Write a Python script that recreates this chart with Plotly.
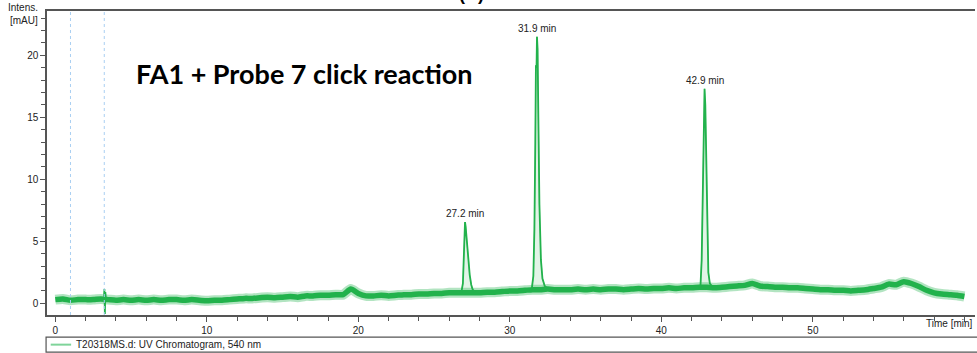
import plotly.graph_objects as go

# ---------------- data ----------------
# baseline sampled every 0.5 min from 0 to 60 min
base_step = 0.5
base_values = [
    0.30, 0.35, 0.25, 0.30, 0.30, 0.30, 0.35, 0.30, 0.25, 0.30,   # 0 - 4.5
    0.25, 0.30, 0.25, 0.30, 0.25, 0.30, 0.30, 0.25, 0.30, 0.25,   # 5 - 9.5
    0.20, 0.25, 0.25, 0.30, 0.35, 0.40, 0.40, 0.45, 0.50, 0.45,   # 10 - 14.5
    0.50, 0.55, 0.50, 0.60, 0.60, 0.65, 0.65, 0.70, 0.70, 1.15,   # 15 - 19.5
    0.80, 0.60, 0.60, 0.65, 0.60, 0.65, 0.70, 0.70, 0.75, 0.75,   # 20 - 24.5
    0.80, 0.80, 0.85, 0.85, 0.85, 0.85, 0.85, 0.90, 0.90, 0.95,   # 25 - 29.5
    1.00, 1.00, 1.05, 1.10, 1.10, 1.15, 1.10, 1.10, 1.10, 1.15,   # 30 - 34.5
    1.10, 1.15, 1.10, 1.15, 1.15, 1.10, 1.15, 1.20, 1.15, 1.20,   # 35 - 39.5
    1.20, 1.25, 1.20, 1.25, 1.25, 1.30, 1.30, 1.25, 1.30, 1.35,   # 40 - 44.5
    1.40, 1.45, 1.60, 1.40, 1.35, 1.30, 1.30, 1.25, 1.25, 1.20,   # 45 - 49.5
    1.15, 1.10, 1.10, 1.05, 1.05, 1.00, 1.05, 1.10, 1.20, 1.30,   # 50 - 54.5
    1.55, 1.50, 1.75, 1.60, 1.35, 1.05, 0.85, 0.75, 0.70, 0.65,   # 55 - 59.5
    0.55,                                                         # 60
]

# injection spike
spike_t = [3.20, 3.24, 3.27, 3.30, 3.34]
spike_v = [0.35, 1.15, -0.85, 0.90, 0.35]

# peaks
peak1_t = [26.70, 26.80, 26.90, 26.95, 27.00, 27.04, 27.08, 27.15, 27.25, 27.35, 27.45, 27.55, 27.70]
peak1_v = [0.85, 0.90, 1.60, 3.80, 5.80, 6.55, 6.20, 5.00, 3.60, 2.30, 1.50, 1.10, 0.90]

peak2_t = [31.30, 31.45, 31.55, 31.62, 31.68, 31.72, 31.76, 31.79, 31.83, 31.88, 31.95, 32.05, 32.15, 32.30, 32.45]
peak2_v = [1.05, 1.20, 2.20, 6.00, 13.00, 19.20, 19.00, 21.50, 20.50, 15.00, 8.00, 3.50, 2.00, 1.40, 1.25]

peak3_t = [42.45, 42.58, 42.66, 42.72, 42.78, 42.82, 42.85, 42.90, 42.96, 43.02, 43.10, 43.20, 43.35]
peak3_v = [1.25, 1.40, 3.50, 8.50, 14.00, 16.80, 17.30, 16.00, 11.00, 5.50, 2.50, 1.60, 1.35]

peak_labels = ["27.2 min", "31.9 min", "42.9 min"]
marker_lines = [1.0, 3.23]

x_ticks = [0, 10, 20, 30, 40, 50, 60]
x_ticktext = ["0", "10", "20", "30", "40", "50", ""]
x_title = "Time [min]"
y_ticks = [0, 5, 10, 15, 20]

title_text = "FA1 + Probe 7 click reaction"
legend_text = "T20318MS.d: UV Chromatogram, 540 nm"

# ---------------- figure ----------------
GREEN = "#22b24c"
base_t = [i * base_step for i in range(len(base_values))]

fig = go.Figure()

# peak fill areas
for pt, pv in [(peak1_t, peak1_v), (peak2_t, peak2_v), (peak3_t, peak3_v)]:
    fig.add_trace(go.Scatter(
        x=pt + [pt[-1], pt[0]], y=pv + [pv[-1], pv[0]],
        fill="toself", fillcolor="#e2f4e7", mode="lines",
        line=dict(color="#a8dcb6", width=1), hoverinfo="skip", showlegend=False))

# baseline band (noisy trace appearance): faint fringe + core
fig.add_trace(go.Scatter(x=base_t, y=base_values, mode="lines",
                         line=dict(color="rgba(34,178,76,0.35)", width=10, shape="spline", smoothing=0.6),
                         showlegend=False, hoverinfo="skip"))
fig.add_trace(go.Scatter(x=base_t, y=base_values, mode="lines",
                         line=dict(color=GREEN, width=5.5, shape="spline", smoothing=0.6),
                         showlegend=False, hoverinfo="skip"))

# spike and peaks
for pt, pv in [(spike_t, spike_v), (peak1_t, peak1_v), (peak2_t, peak2_v), (peak3_t, peak3_v)]:
    fig.add_trace(go.Scatter(x=pt, y=pv, mode="lines",
                             line=dict(color=GREEN, width=1.8),
                             showlegend=False, hoverinfo="skip"))

shapes = []
for m in marker_lines:
    shapes.append(dict(type="line", xref="x", yref="paper", x0=m, x1=m, y0=0, y1=1,
                       line=dict(color="#a9cff2", width=1, dash="dot")))
# legend box
shapes.append(dict(type="rect", xref="paper", yref="paper", x0=-0.001, x1=1.01,
                   y0=-0.122, y1=-0.073, line=dict(color="#555555", width=1.2)))
shapes.append(dict(type="line", xref="paper", yref="paper", x0=0.004, x1=0.026,
                   y0=-0.0975, y1=-0.0975, line=dict(color="#7fd49a", width=2)))

annotations = []
for pt, pv, lab in [(peak1_t, peak1_v, peak_labels[0]), (peak2_t, peak2_v, peak_labels[1]),
                    (peak3_t, peak3_v, peak_labels[2])]:
    i = pv.index(max(pv))
    annotations.append(dict(x=pt[i], y=pv[i], xref="x", yref="y", text=lab, showarrow=False,
                            yanchor="bottom", yshift=1,
                            font=dict(family="Liberation Sans, Arial", size=10, color="#222222")))
annotations.append(dict(x=0.278, y=0.795, xref="paper", yref="paper", text="<b>" + title_text + "</b>",
                        showarrow=False, xanchor="center", yanchor="middle",
                        font=dict(family="Lato, Open Sans", size=27, color="#000000")))
annotations.append(dict(x=-0.008, y=1.013, xref="paper", yref="paper", text="Intens.",
                        showarrow=False, xanchor="right", yanchor="middle",
                        font=dict(family="Liberation Sans, Arial", size=10, color="#222222")))
annotations.append(dict(x=-0.008, y=0.969, xref="paper", yref="paper", text="[mAU]",
                        showarrow=False, xanchor="right", yanchor="middle",
                        font=dict(family="Liberation Sans, Arial", size=10, color="#222222")))
annotations.append(dict(x=0.029, y=-0.0975, xref="paper", yref="paper", text=legend_text,
                        showarrow=False, xanchor="left", yanchor="middle",
                        font=dict(family="Liberation Sans, Arial", size=10, color="#222222")))
annotations.append(dict(x=1.0, y=-0.0285, xref="paper", yref="paper", text=x_title,
                        showarrow=False, xanchor="right", yanchor="middle",
                        font=dict(family="Liberation Sans, Arial", size=10, color="#222222")))
annotations.append(dict(x=0.457, y=1.016, xref="paper", yref="paper", text="<b>(A)</b>",
                        showarrow=False, xanchor="center", yanchor="bottom",
                        font=dict(family="Liberation Sans, Arial", size=18, color="#000000")))

fig.update_layout(
    width=977, height=353,
    margin=dict(l=47, r=2, t=11, b=38, autoexpand=False),
    paper_bgcolor="white", plot_bgcolor="white",
    shapes=shapes, annotations=annotations,
    showlegend=False,
    xaxis=dict(range=[-0.55, 60.7], tickvals=x_ticks, ticktext=x_ticktext, automargin=False,
               ticks="outside", ticklen=5, tickcolor="#555555", tickwidth=1,
               minor=dict(dtick=2, ticks="outside", ticklen=4, tickcolor="#555555"),
               showline=True, linecolor="#555555", linewidth=1.5, mirror=True,
               showgrid=False, zeroline=False,
               tickfont=dict(family="Liberation Sans, Arial", size=10, color="#222222")),
    yaxis=dict(range=[-0.94, 23.57], tickvals=y_ticks, automargin=False,
               ticks="outside", ticklen=5, tickcolor="#555555", tickwidth=1,
               minor=dict(dtick=1, ticks="outside", ticklen=4, tickcolor="#555555"),
               showline=True, linecolor="#555555", linewidth=1.5,
               showgrid=False, zeroline=False,
               tickfont=dict(family="Liberation Sans, Arial", size=10, color="#222222")),
)

fig.write_html("out.html", config={"displayModeBar": False},
               post_script="document.body.style.margin='0';document.body.style.overflow='hidden';")
